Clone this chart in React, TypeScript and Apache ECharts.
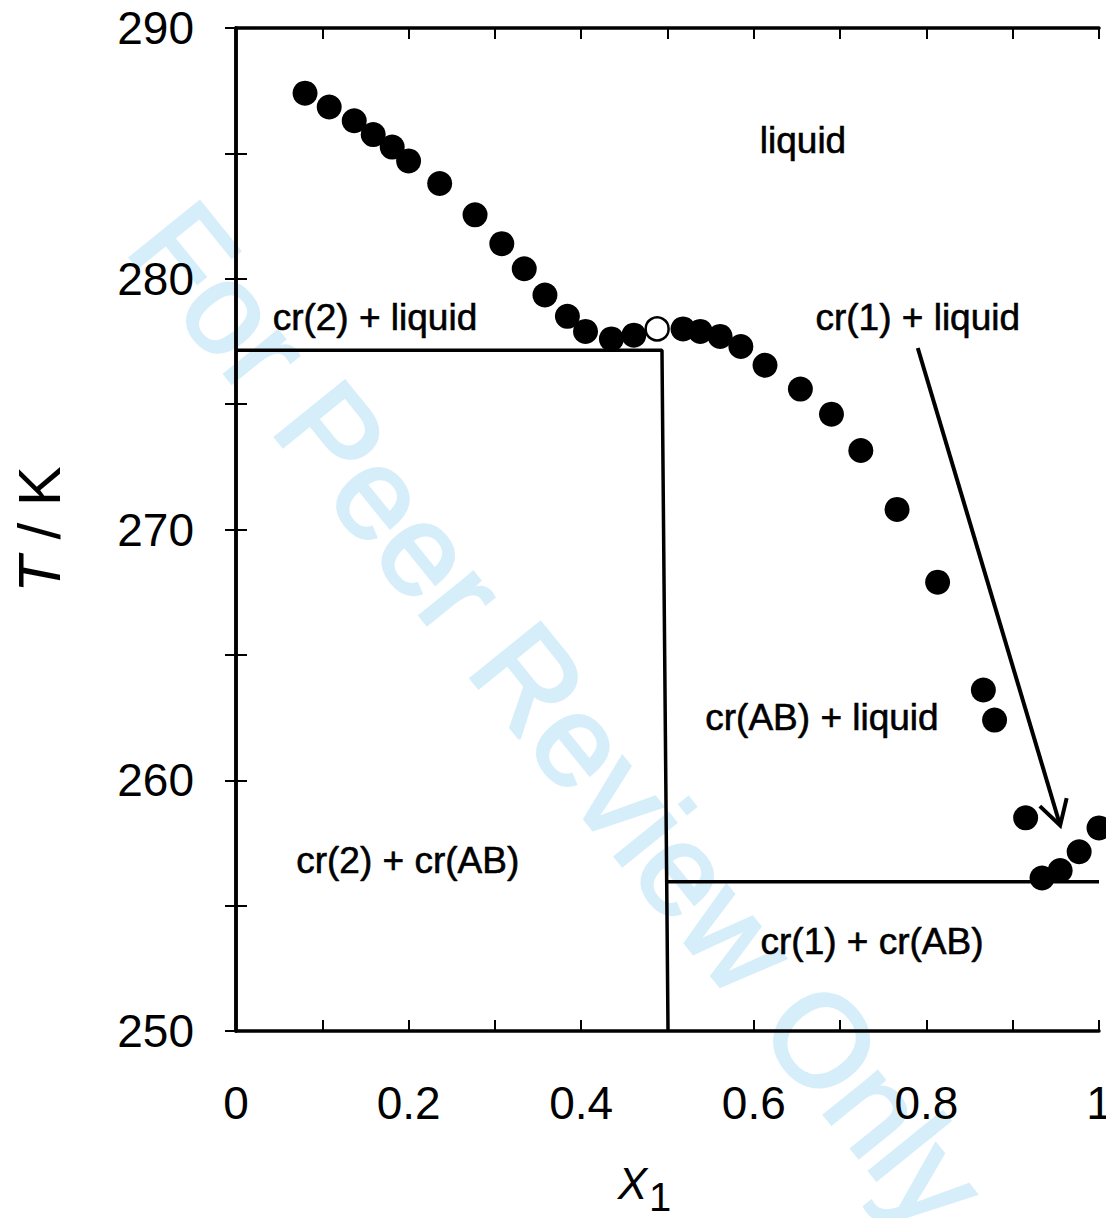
import React, { useEffect, useRef } from "react";
import * as echarts from "echarts";

// Measured liquidus points (x1, T/K)
const pointX = [
  0.080, 0.108, 0.137, 0.159, 0.181, 0.200, 0.236, 0.277, 0.308, 0.334, 0.358,
  0.384, 0.405, 0.435, 0.461, 0.518, 0.538, 0.561, 0.585, 0.613, 0.654, 0.690,
  0.724, 0.766, 0.813, 0.866, 0.879, 0.915, 0.934, 0.955, 0.977, 1.000,
];
const pointT = [
  287.4, 286.85, 286.3, 285.75, 285.25, 284.7, 283.8, 282.55, 281.4, 280.4, 279.35,
  278.5, 277.9, 277.6, 277.75, 278.0, 277.9, 277.7, 277.3, 276.55, 275.6, 274.6,
  273.15, 270.8, 267.9, 263.6, 262.4, 258.5, 256.1, 256.4, 257.15, 258.1,
];
// Open symbol (congruent melting point of AB)
const openPoint = [0.488, 278.0];

// Phase boundary lines
const eutecticLeft = [
  [0, 277.15],
  [0.4936, 277.15],
  [0.5006, 250],
];
const eutecticRight = [
  [0.4995, 255.95],
  [1, 255.95],
];
// Arrow [x0, T0, x1, T1]
const arrow = [0.79, 277.24, 0.955, 258.2];

// Region labels
const regionNames = [
  "liquid",
  "cr(2) + liquid",
  "cr(1) + liquid",
  "cr(AB) + liquid",
  "cr(2) + cr(AB)",
  "cr(1) + cr(AB)",
];
const regionX = [0.657, 0.161, 0.79, 0.679, 0.199, 0.737];
const regionT = [285.53, 278.47, 278.47, 262.52, 256.78, 253.55];

const xMin = 0;
const xMax = 1;
const xStep = 0.1;
const yMin = 250;
const yMax = 290;
const yStep = 5;

const FONT = "'Liberation Sans', Arial, sans-serif";

export default function App() {
  const ref = useRef<HTMLDivElement>(null);

  useEffect(() => {
    if (!ref.current) return;
    const chart = echarts.init(ref.current, null, { renderer: "svg" });

    const axisLine = { show: true, lineStyle: { color: "#000", width: 3.5 } };
    const axisTick = {
      show: true,
      inside: true,
      length: 11,
      lineStyle: { color: "#000", width: 2 },
    };

    const option: any = {
      animation: false,
      backgroundColor: "#fff",
      textStyle: { fontFamily: FONT },
      grid: {
        left: 236,
        right: 7,
        top: 28,
        bottom: 187,
        containLabel: false,
        outerBoundsMode: "none",
      },
      graphic: [
        {
          type: "text",
          x: 108,
          y: 262,
          rotation: (-51 * Math.PI) / 180,
          z: -10,
          silent: true,
          style: {
            text: "For Peer Review Only",
            fontSize: 130,
            fontFamily: FONT,
            fill: "#d6eefa",
            stroke: "#d6eefa",
            lineWidth: 3,
            align: "left",
            verticalAlign: "bottom",
          },
        },
      ],
      xAxis: [
        {
          type: "value",
          min: xMin,
          max: xMax,
          interval: xStep,
          position: "bottom",
          axisLine,
          axisTick,
          splitLine: { show: false },
          axisLabel: {
            margin: 49,
            fontSize: 46,
            color: "#000",
            fontFamily: FONT,
            formatter: (v: number) => {
              const k = Math.round(v * 10);
              return k % 2 === 0 ? String(k / 10) : "";
            },
          },
          name: "{i|X}{s|1}",
          nameLocation: "middle",
          nameGap: 118,
          nameTextStyle: {
            padding: [0, 46, 0, 0],
            rich: {
              i: { fontSize: 44, fontStyle: "italic", fontFamily: FONT, color: "#000" },
              s: { fontSize: 40, fontFamily: FONT, color: "#000", padding: [28, 0, 0, 2] },
            },
          },
        },
        {
          type: "value",
          min: xMin,
          max: xMax,
          interval: xStep,
          position: "top",
          axisLine,
          axisTick,
          axisLabel: { show: false },
          splitLine: { show: false },
        },
      ],
      yAxis: [
        {
          type: "value",
          min: yMin,
          max: yMax,
          interval: yStep,
          position: "left",
          axisLine,
          axisTick,
          splitLine: { show: false },
          axisLabel: {
            margin: 42,
            fontSize: 46,
            color: "#000",
            fontFamily: FONT,
            padding: [14, 0, 0, 0],
            formatter: (v: number) => (Math.round(v) % 10 === 0 ? String(Math.round(v)) : ""),
          },
          name: "{i|T} / K",
          nameLocation: "middle",
          nameGap: 167,
          nameTextStyle: {
            fontSize: 60,
            color: "#000",
            fontFamily: FONT,
            rich: {
              i: { fontSize: 60, fontStyle: "italic", fontFamily: FONT, color: "#000" },
            },
          },
        },
        {
          type: "value",
          min: yMin,
          max: yMax,
          interval: yStep,
          position: "right",
          axisLine,
          axisTick,
          axisLabel: { show: false },
          splitLine: { show: false },
        },
      ],
      series: [
        {
          type: "line",
          data: eutecticLeft,
          symbol: "none",
          lineStyle: { color: "#000", width: 3.5 },
          z: 2,
          silent: true,
        },
        {
          type: "line",
          data: eutecticRight,
          symbol: "none",
          lineStyle: { color: "#000", width: 3.5 },
          z: 2,
          silent: true,
        },
        {
          type: "scatter",
          data: pointX.slice(0, 15).map((x, i) => [x, pointT[i]]),
          symbol: "circle",
          symbolSize: 25,
          itemStyle: { color: "#000", opacity: 1 },
          z: 3,
          silent: true,
        },
        {
          type: "scatter",
          data: [openPoint],
          symbol: "circle",
          symbolSize: 23,
          itemStyle: { color: "#fff", borderColor: "#000", borderWidth: 2.5, opacity: 1 },
          z: 4,
          silent: true,
        },
        {
          type: "scatter",
          data: pointX.slice(15).map((x, i) => [x, pointT[i + 15]]),
          symbol: "circle",
          symbolSize: 25,
          itemStyle: { color: "#000", opacity: 1 },
          z: 5,
          silent: true,
        },
        {
          type: "custom",
          data: [arrow],
          z: 6,
          silent: true,
          renderItem: (params: any, api: any) => {
            const p0 = api.coord([api.value(0), api.value(1)]);
            const p1 = api.coord([api.value(2), api.value(3)]);
            const dx = p1[0] - p0[0];
            const dy = p1[1] - p0[1];
            const len = Math.sqrt(dx * dx + dy * dy);
            const ux = dx / len;
            const uy = dy / len;
            const head = 28;
            const ang = (30 * Math.PI) / 180;
            const bx = -ux;
            const by = -uy;
            const w1 = [
              p1[0] + head * (bx * Math.cos(ang) - by * Math.sin(ang)),
              p1[1] + head * (bx * Math.sin(ang) + by * Math.cos(ang)),
            ];
            const w2 = [
              p1[0] + head * (bx * Math.cos(-ang) - by * Math.sin(-ang)),
              p1[1] + head * (bx * Math.sin(-ang) + by * Math.cos(-ang)),
            ];
            return {
              type: "group",
              children: [
                {
                  type: "line",
                  shape: { x1: p0[0], y1: p0[1], x2: p1[0] - ux * 2, y2: p1[1] - uy * 2 },
                  style: { stroke: "#000", lineWidth: 4 },
                },
                {
                  type: "polyline",
                  shape: { points: [w1, p1, w2] },
                  style: { stroke: "#000", lineWidth: 4, fill: null },
                },
              ],
            };
          },
        },
        {
          type: "custom",
          data: regionNames.map((n, i) => [regionX[i], regionT[i], i]),
          z: 7,
          silent: true,
          renderItem: (params: any, api: any) => {
            const p = api.coord([api.value(0), api.value(1)]);
            return {
              type: "text",
              x: p[0],
              y: p[1],
              style: {
                text: regionNames[api.value(2)],
                fontSize: 37,
                fontFamily: FONT,
                fill: "#000",
                stroke: "#000",
                lineWidth: 0.6,
                align: "center",
                verticalAlign: "middle",
              },
            };
          },
        },
      ],
    };

    chart.setOption(option);
    return () => chart.dispose();
  }, []);

  return (
    <div
      ref={ref}
      style={{ position: "fixed", left: 0, top: 0, width: 1106, height: 1218, background: "#fff" }}
    />
  );
}
